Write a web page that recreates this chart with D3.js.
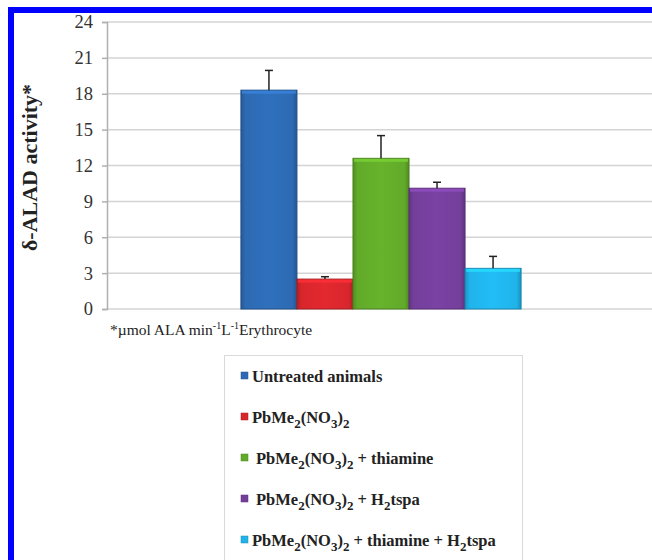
<!DOCTYPE html>
<html>
<head>
<meta charset="utf-8">
<script src="https://cdn.jsdelivr.net/npm/d3@7"></script>
<style>
  body { margin: 0; background: #fff; }
  svg { display: block; }
</style>
</head>
<body>
<svg id="chart"></svg>
<script>
// data
const groups = ["Untreated animals", "PbMe_2(NO_3)_2", "PbMe_2(NO_3)_2 + thiamine",
                "PbMe_2(NO_3)_2 + H_2tspa", "PbMe_2(NO_3)_2 + thiamine + H_2tspa"];
const activity = [18.3, 2.5, 12.6, 10.1, 3.4];
const errors = [1.65, 0.2, 1.9, 0.5, 1.0];
const colors = ["#2d6ab3", "#d8262d", "#62aa2a", "#743f9b", "#20b3ea"];
const yTicks = [0, 3, 6, 9, 12, 15, 18, 21, 24];

const W = 652, H = 560;
const margin = {top: 22, left: 107},
    width = 548,
    height = 287;

const svg = d3.select("#chart").attr("width", W).attr("height", H);

// blue frame (only top and left edges visible)
svg.append("rect").attr("x", 8).attr("y", 7).attr("width", 660).attr("height", 570)
    .attr("fill", "none").attr("stroke", "#0000ff").attr("stroke-width", 6)
    .attr("transform", "translate(3,3)");

const defs = svg.append("defs");
colors.forEach((c, i) => {
    const g = defs.append("linearGradient").attr("id", "grad" + i)
        .attr("x1", 0).attr("x2", 1).attr("y1", 0).attr("y2", 0);
    const base = d3.color(c);
    g.append("stop").attr("offset", "0%").attr("stop-color", base.darker(0.5));
    g.append("stop").attr("offset", "8%").attr("stop-color", base);
    g.append("stop").attr("offset", "50%").attr("stop-color", base.brighter(0.15));
    g.append("stop").attr("offset", "92%").attr("stop-color", base);
    g.append("stop").attr("offset", "100%").attr("stop-color", base.darker(0.6));
});

const chart = svg.append("g").attr("transform", `translate(${margin.left},${margin.top})`);

const x = d3.scaleBand()
    .domain(groups)
    .range([0, width])
    .paddingInner(0)
    .paddingOuter(2.39);

const y = d3.scaleLinear()
    .domain([0, 24])
    .range([height, 0]);

// gridlines
chart.append("g")
    .selectAll("line")
    .data(yTicks)
    .join("line")
    .attr("x1", 0).attr("x2", width)
    .attr("y1", d => y(d)).attr("y2", d => y(d))
    .attr("stroke", "#d4d4d4").attr("stroke-width", 1.5);

const yAxis = chart.append("g")
    .call(d3.axisLeft(y).tickValues(yTicks).tickSize(5).tickPadding(9));
yAxis.select(".domain").attr("stroke", "#b0b0b0").attr("stroke-width", 1.5);
yAxis.selectAll(".tick line").attr("stroke", "#b0b0b0").attr("stroke-width", 1.5);
yAxis.selectAll(".tick text")
    .style("font-family", "'Liberation Serif', serif")
    .style("font-size", "18.5px")
    .attr("fill", "#333");

// bars
chart.append("g")
    .selectAll("rect")
    .data(groups)
    .join("rect")
    .attr("x", d => x(d))
    .attr("y", (d, i) => y(activity[i]))
    .attr("width", x.bandwidth())
    .attr("height", (d, i) => y(0) - y(activity[i]))
    .attr("fill", (d, i) => `url(#grad${i})`)
    .attr("stroke", (d, i) => d3.color(colors[i]).darker(0.8))
    .attr("stroke-width", 1);

// top bevel highlight
chart.append("g")
    .selectAll("rect")
    .data(groups)
    .join("rect")
    .attr("x", d => x(d) + 1)
    .attr("y", (d, i) => y(activity[i]) + 0.5)
    .attr("width", x.bandwidth() - 2)
    .attr("height", 3)
    .attr("fill", (d, i) => d3.color(colors[i]).brighter(0.6))
    .attr("opacity", 0.8);

// error bars
const eb = chart.append("g").attr("stroke", "#222").attr("stroke-width", 1.5);
groups.forEach((d, i) => {
    const cx = x(d) + x.bandwidth() / 2;
    eb.append("line").attr("x1", cx).attr("x2", cx)
        .attr("y1", y(activity[i])).attr("y2", y(activity[i] + errors[i]));
    eb.append("line").attr("x1", cx - 4).attr("x2", cx + 4)
        .attr("y1", y(activity[i] + errors[i])).attr("y2", y(activity[i] + errors[i]));
});

// y label
svg.append("text")
    .attr("transform", `translate(37, ${margin.top + height / 2 + 2}) rotate(-90)`)
    .attr("text-anchor", "middle")
    .style("font-family", "'Liberation Serif', serif")
    .style("font-size", "22px")
    .style("font-weight", "bold")
    .attr("fill", "#222")
    .text("δ-ALAD activity*");

// footnote
const note = svg.append("text")
    .attr("x", 110).attr("y", 335)
    .style("font-family", "'Liberation Serif', serif")
    .style("font-size", "15.5px")
    .attr("fill", "#222");
note.append("tspan").text("*µmol ALA min");
note.append("tspan").attr("dy", -6).style("font-size", "10px").text("-1");
note.append("tspan").attr("dy", 6).text("L");
note.append("tspan").attr("dy", -6).style("font-size", "10px").text("-1");
note.append("tspan").attr("dy", 6).text("Erythrocyte");

// legend
const legend = svg.append("g");
legend.append("rect")
    .attr("x", 224.5).attr("y", 355.5).attr("width", 298).attr("height", 220)
    .attr("fill", "#fff").attr("stroke", "#d9d9d9");

function writeLabel(sel, label) {
    // "_" marks a one-character subscript
    const parts = label.split(/_(.)/);
    parts.forEach((p, k) => {
        if (k % 2 === 1) {
            sel.append("tspan").attr("dy", 5).style("font-size", "13px").text(p);
        } else if (p) {
            sel.append("tspan").attr("dy", k ? -5 : 0).text(p);
        }
    });
}

groups.forEach((g, i) => {
    const ry = 377 + i * 41;
    const shift = (i === 2 || i === 3) ? 4 : 0;
    legend.append("rect")
        .attr("x", 241).attr("y", ry - 5)
        .attr("width", 7).attr("height", 7)
        .attr("fill", colors[i])
        .attr("stroke", d3.color(colors[i]).darker(0.6)).attr("stroke-width", 0.5);
    const t = legend.append("text")
        .attr("x", 252 + shift).attr("y", ry + 5)
        .style("font-family", "'Liberation Serif', serif")
        .style("font-size", "16.5px")
        .style("font-weight", "bold")
        .attr("fill", "#222");
    writeLabel(t, g);
});
</script>
</body>
</html>
